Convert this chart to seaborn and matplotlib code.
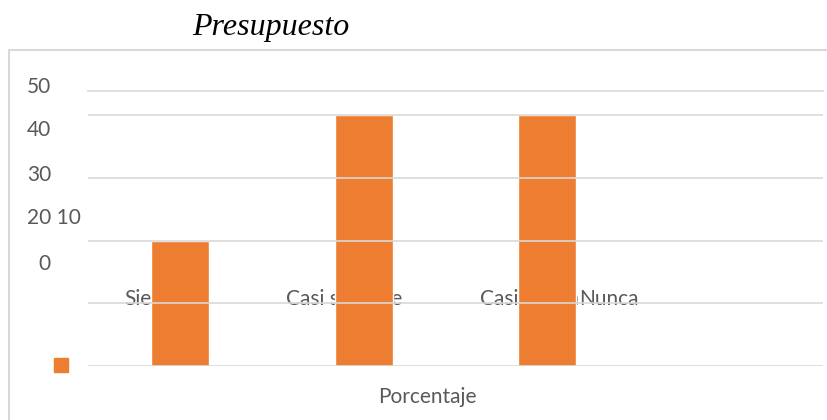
import matplotlib
matplotlib.use("Agg")
import matplotlib.pyplot as plt
import seaborn as sns
import pandas as pd
from matplotlib.patches import Rectangle

categories = ["Siempre", "Casi siempre", "Casi nunca", "Nunca"]
values = [20, 40, 40, 0]
ytick_values = [0, 10, 20, 30, 40]
ylabel_texts = ["50", "40", "30", "20 10", "0"]
title = "Presupuesto"
xlabel = "Porcentaje"

sns.set_theme(style="white")
plt.rcParams["font.family"] = ["Lato", "DejaVu Sans"]

W, H = 827, 420
fig = plt.figure(figsize=(W / 100, H / 100), dpi=100)

def fx(px):
    return px / W

def fy(py):
    return 1 - py / H

# axes: x 88..823, y 366 (0) .. 91 (top)
ax = fig.add_axes([fx(88), fy(366), fx(823) - fx(88), fy(91) - fy(366)])
ymax = 40 * (366 - 91) / (366 - 115)

df = pd.DataFrame({"cat": categories, "val": values})
sns.barplot(data=df, x="cat", y="val", color="#ED7D31", saturation=1,
            width=0.316, ax=ax, zorder=2)
ax.set_ylim(0, ymax)
ax.set_xlim(-0.5, len(categories) - 0.5)
ax.set_yticks(ytick_values)
ax.yaxis.grid(True, color="#D9D9D9", linewidth=1.2, zorder=5)
ax.set_axisbelow(False)
for s in ["left", "right", "bottom"]:
    ax.spines[s].set_visible(False)
ax.spines["top"].set_visible(True)
ax.spines["top"].set_color("#D9D9D9")
ax.spines["top"].set_linewidth(1.2)
ax.set_xticks([])
ax.set_yticklabels([])
ax.tick_params(left=False, bottom=False)
ax.set_xlabel("")
ax.set_ylabel("")

txt_color = "#595959"
fs = 15
# category labels (misplaced, partly hidden under bars)
label_x = [124, 286, 480]
for lab, px in zip(categories[:3], label_x):
    ax.text(fx(px), fy(305), lab, color=txt_color, fontsize=fs,
            ha="left", va="baseline", zorder=1, transform=fig.transFigure)
# last label runs straight on from the third one
renderer = fig.canvas.get_renderer()
prev = ax.texts[-1]
bb = prev.get_window_extent(renderer=renderer)
ax.text(bb.x1 / fig.bbox.width, fy(305), categories[3], color=txt_color,
        fontsize=fs, ha="left", va="baseline", zorder=1,
        transform=fig.transFigure)

# y labels (misplaced)
ylab_pos = [(27, 87), (27, 130), (27, 175), (27, 218), (38, 264)]
for lab, (px, py) in zip(ylabel_texts, ylab_pos):
    fig.text(fx(px), fy(py), lab, color=txt_color, fontsize=fs,
             ha="left", va="center")

# legend marker
fig.patches.append(Rectangle((fx(54), fy(372)), fx(14), fy(358) - fy(372),
                             transform=fig.transFigure, color="#ED7D31",
                             figure=fig))
fig.text(fx(427), fy(397), xlabel, color=txt_color, fontsize=fs,
         ha="center", va="center")

# title
fig.text(fx(271), fy(28), title, fontsize=23, fontstyle="italic",
         family=["Liberation Serif", "DejaVu Serif"], ha="center", va="center",
         color="black")

# outer frame
fig.patches.append(Rectangle((fx(9), fy(425)), fx(830) - fx(9), fy(50) - fy(425),
                             transform=fig.transFigure, fill=False,
                             edgecolor="#D9D9D9", linewidth=1.5, figure=fig))

fig.savefig("out.png", dpi=100)
